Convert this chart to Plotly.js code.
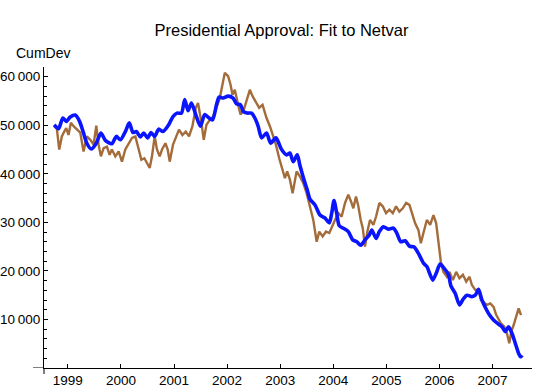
<!DOCTYPE html>
<html>
<head>
<meta charset="utf-8">
<script src="https://cdn.plot.ly/plotly-3.0.1.min.js"></script>
<style>html,body{margin:0;padding:0;background:#fff;}#chart{width:540px;height:388px;}</style>
</head>
<body>
<div id="chart"></div>
<script>
// Brown: actual cumulative deviation (noisy)
const approvalYears = [1998.743,1998.792,1998.838,1998.887,1998.932,1998.970,1999.013,1999.057,1999.108,1999.170,1999.234,1999.296,1999.358,1999.423,1999.485,1999.536,1999.579,1999.623,1999.674,1999.736,1999.787,1999.830,1999.894,1999.957,2000.019,2000.083,2000.145,2000.208,2000.272,2000.334,2000.385,2000.442,2000.491,2000.542,2000.585,2000.636,2000.679,2000.730,2000.774,2000.838,2000.881,2000.919,2000.981,2001.045,2001.094,2001.158,2001.221,2001.283,2001.347,2001.409,2001.453,2001.517,2001.560,2001.611,2001.674,2001.736,2001.800,2001.862,2001.913,2001.957,2002.019,2002.064,2002.102,2002.145,2002.208,2002.253,2002.315,2002.377,2002.428,2002.479,2002.542,2002.604,2002.668,2002.743,2002.806,2002.868,2002.919,2002.981,2003.045,2003.089,2003.132,2003.183,2003.234,2003.309,2003.372,2003.434,2003.498,2003.560,2003.623,2003.687,2003.736,2003.800,2003.862,2003.925,2003.970,2004.032,2004.094,2004.158,2004.221,2004.283,2004.334,2004.377,2004.428,2004.472,2004.517,2004.555,2004.598,2004.642,2004.692,2004.755,2004.806,2004.868,2004.932,2004.994,2005.057,2005.121,2005.183,2005.245,2005.309,2005.372,2005.434,2005.479,2005.542,2005.604,2005.649,2005.698,2005.762,2005.825,2005.887,2005.938,2005.981,2006.026,2006.075,2006.140,2006.189,2006.253,2006.315,2006.377,2006.442,2006.504,2006.566,2006.611,2006.674,2006.736,2006.781,2006.830,2006.894,2006.957,2007.019,2007.070,2007.113,2007.158,2007.221,2007.272,2007.315,2007.353,2007.396,2007.447,2007.491,2007.536];
const approvalCumDev = [49800,49400,45000,47700,48700,49400,48000,50500,49800,49200,48500,44600,47700,47000,46000,49900,46000,43600,45300,45600,43900,45000,43600,44600,42500,45000,46300,47400,47700,45300,42900,43200,42100,41200,43600,47700,45000,43600,45000,46300,45000,42500,46000,47700,49100,48000,48700,47700,49800,53600,54600,50500,47000,50100,51100,51800,53900,55600,58400,60800,60100,58400,56300,57300,54200,52200,53200,55600,57300,56000,54900,53600,54200,51500,49800,47700,46000,43200,40500,39100,40500,38800,36000,40500,39400,38100,36000,33300,30500,26000,28100,27100,28100,27800,29100,30500,31900,31200,34000,35700,34300,32900,35300,33300,30500,28800,25000,28100,30500,29500,31200,34000,33300,31900,32600,31900,33300,32200,32900,34000,33600,31900,29800,28400,25700,27800,30500,29500,31500,29800,25700,21900,19800,18800,19800,18100,19800,18500,19200,17800,18800,17100,16100,16100,14000,13600,13000,13300,12600,10900,10200,9200,8500,7100,5100,7500,8800,10900,12300,10900];

// Blue: fit to Netvar (smooth)
const fitYears = [1998.743,1998.825,1998.906,1998.970,1999.045,1999.140,1999.221,1999.296,1999.358,1999.442,1999.536,1999.623,1999.706,1999.830,1999.913,1999.989,2000.083,2000.158,2000.226,2000.291,2000.366,2000.428,2000.504,2000.566,2000.636,2000.711,2000.792,2000.900,2000.981,2001.057,2001.140,2001.202,2001.264,2001.328,2001.409,2001.498,2001.579,2001.660,2001.725,2001.800,2001.849,2001.925,2002.019,2002.113,2002.177,2002.253,2002.302,2002.377,2002.460,2002.523,2002.585,2002.649,2002.743,2002.819,2002.919,2003.026,2003.121,2003.183,2003.245,2003.321,2003.372,2003.447,2003.509,2003.560,2003.655,2003.749,2003.843,2003.925,2003.970,2004.013,2004.064,2004.113,2004.189,2004.283,2004.366,2004.442,2004.517,2004.598,2004.679,2004.725,2004.806,2004.868,2004.943,2005.038,2005.132,2005.196,2005.272,2005.353,2005.434,2005.523,2005.604,2005.698,2005.762,2005.825,2005.875,2005.938,2006.013,2006.089,2006.170,2006.215,2006.296,2006.377,2006.453,2006.517,2006.611,2006.674,2006.736,2006.800,2006.881,2006.943,2007.019,2007.094,2007.177,2007.240,2007.302,2007.366,2007.428,2007.491,2007.530,2007.560];
const fitCumDev = [50100,49300,51500,50800,51700,52100,50800,48400,46300,45100,46300,48400,46900,46200,47700,47000,48700,50500,48500,48700,47600,48400,47400,48500,47700,49200,48700,50100,51800,52500,52500,55300,53000,54600,52200,49800,52200,51500,51100,54200,55800,55600,56000,55600,54400,54200,52900,52500,52500,51500,49800,47400,48400,46300,47400,45000,43900,44300,42500,43900,41700,38800,36700,34800,33600,31500,30900,29900,31900,34500,31900,29300,28800,28100,26400,26000,25300,26400,27400,28400,26700,28100,29100,28600,28800,27800,26000,26200,25100,24900,23600,21600,20900,19200,18100,19500,21400,20500,19200,16900,15400,13000,14300,15000,14700,15000,16200,14000,12100,10900,9900,9200,8500,7500,8500,7100,5100,3000,2300,2600];

const yTickVals = [10000,20000,30000,40000,50000,60000];
const yTickText = ['10\u2009000','20\u2009000','30\u2009000','40\u2009000','50\u2009000','60\u2009000'];
const xTickVals = [1999,2000,2001,2002,2003,2004,2005,2006,2007];
const xTickText = ['1999','2000','2001','2002','2003','2004','2005','2006','2007'];

const FONT = 'Liberation Sans, Arial, Helvetica, sans-serif';

const traces = [
  {x: approvalYears, y: approvalCumDev, type: 'scatter', mode: 'lines',
   line: {color: 'rgb(163,108,58)', width: 2.4}, hoverinfo: 'skip'},
  {x: fitYears, y: fitCumDev, type: 'scatter', mode: 'lines',
   line: {color: 'rgb(10,20,255)', width: 3.6, shape: 'spline', smoothing: 0.7}, hoverinfo: 'skip'}
];

const layout = {
  width: 540, height: 388,
  margin: {l: 44, r: 8, t: 67, b: 20, pad: 0},
  paper_bgcolor: '#fff', plot_bgcolor: '#fff',
  showlegend: false,
  font: {family: FONT, size: 13, color: '#000'},
  title: {text: 'Presidential Approval: Fit to Netvar', font: {family: FONT, size: 16.5, color: '#000'},
          x: 0.5213, xref: 'container', xanchor: 'center', y: 0.921, yref: 'container', yanchor: 'middle'},
  xaxis: {range: [1998.551, 2007.743], showgrid: false, zeroline: false,
          showline: true, linecolor: '#000', linewidth: 1,
          tickmode: 'array', tickvals: xTickVals, ticktext: xTickText,
          ticks: 'inside', ticklen: 4, tickcolor: '#000', tickwidth: 1,
          tickfont: {family: FONT, size: 13.5, color: '#000'}},
  yaxis: {range: [0, 62000], showgrid: false, zeroline: false,
          showline: true, linecolor: '#000', linewidth: 1,
          tickmode: 'array', tickvals: yTickVals, ticktext: yTickText,
          ticks: 'inside', ticklen: 4, tickcolor: '#000', tickwidth: 1,
          minor: {tickmode: 'linear', tick0: 0, dtick: 2000, ticks: 'inside', ticklen: 2.5, tickcolor: '#000', tickwidth: 1, showgrid: false},
          tickfont: {family: FONT, size: 13.5, color: '#000'}},
  annotations: [
    {text: 'CumDev', xref: 'paper', yref: 'paper', x: -0.0014, y: 1.048,
     xanchor: 'center', yanchor: 'middle', showarrow: false,
     font: {family: FONT, size: 14, color: '#000'}}
  ],
  shapes: [
    {type: 'line', xref: 'paper', yref: 'y', x0: -0.0225, x1: 0, y0: 0, y1: 0, line: {color: '#000', width: 1}},
    {type: 'line', xref: 'paper', yref: 'paper', x0: 0, x1: 0, y0: -0.02, y1: 0, line: {color: '#000', width: 1}}
  ]
};

Plotly.newPlot('chart', traces, layout, {displayModeBar: false, staticPlot: true});
</script>
</body>
</html>
